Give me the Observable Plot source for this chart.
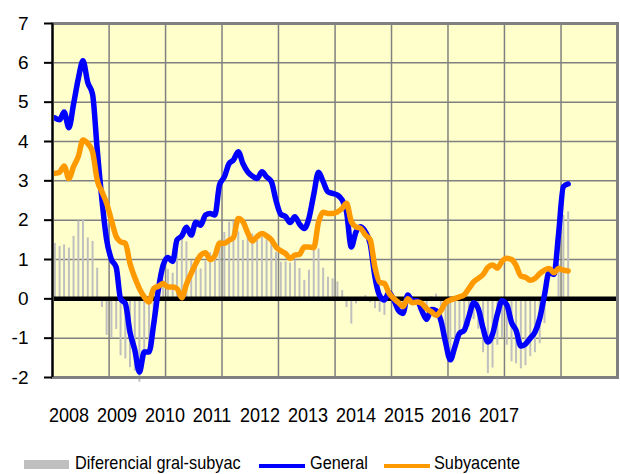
<!DOCTYPE html>
<html>
<head>
<meta charset="utf-8">
<script src="https://cdn.jsdelivr.net/npm/d3@7"></script>
<script src="https://cdn.jsdelivr.net/npm/@observablehq/plot@0.6"></script>
<style>
  html, body { margin: 0; padding: 0; background: #ffffff; }
  #wrap { position: relative; width: 620px; height: 474px; font-family: "Liberation Sans", Arial, sans-serif; color: #000; }
  #chart { position: absolute; left: 0; top: 0; }
  .yr { position: absolute; top: 405px; font-size: 20px; line-height: 20px; white-space: nowrap; transform: translateX(-50%) scaleX(0.9); }
  .lg { position: absolute; top: 453px; font-size: 18.5px; line-height: 20px; white-space: nowrap; transform-origin: 0 50%; transform: scaleX(0.88); }
  .sw { position: absolute; }
</style>
</head>
<body>
<div id="wrap"></div>
<script>
// Monthly series, Jan 2008 .. Feb 2017
const startYear = 2008;
const general = [4.6,4.55,4.75,4.35,4.95,5.6,6.05,5.5,5.2,3.8,2.5,1.5,
  1.0,0.8,0.0,-0.12,-0.85,-1.3,-1.86,-1.35,-1.35,-0.65,0.25,0.85,
  1.05,0.95,1.5,1.6,1.82,1.62,1.95,1.87,2.13,2.17,2.13,2.9,
  3.1,3.44,3.53,3.74,3.44,3.23,3.12,3.06,3.23,3.1,2.98,2.5,
  2.15,2.09,1.94,2.09,1.9,1.79,2.05,2.65,3.22,2.98,2.72,2.68,
  2.64,2.51,2.21,1.32,1.7,1.83,1.7,1.4,0.55,0.08,-0.03,0.16,
  -0.03,-0.3,-0.37,0.1,-0.05,-0.05,-0.3,-0.52,-0.27,-0.3,-0.55,-1.1,
  -1.55,-1.2,-0.88,-0.8,-0.45,-0.1,-0.25,-0.75,-1.1,-0.9,-0.4,-0.05,
  -0.15,-0.6,-0.8,-1.2,-1.15,-1.0,-0.85,-0.5,0.1,0.68,0.62,1.65,
  2.85,2.92];
const subyacente = [3.19,3.22,3.38,3.06,3.36,3.62,4.04,3.95,3.74,3.02,2.72,2.43,
  2.0,1.58,1.45,1.41,0.9,0.54,0.26,0.05,-0.08,0.26,0.32,0.39,
  0.3,0.3,0.26,0.03,0.37,0.65,0.9,1.11,1.17,1.0,1.1,1.41,
  1.41,1.49,1.56,2.04,1.96,1.68,1.47,1.58,1.66,1.6,1.5,1.32,
  1.22,1.15,1.03,1.11,1.13,1.32,1.32,1.3,1.95,2.2,2.17,2.17,
  2.21,2.3,2.43,1.96,1.83,1.79,1.62,1.5,0.8,0.42,0.39,0.14,
  0.01,-0.1,-0.2,0.0,-0.1,-0.08,-0.12,-0.25,-0.33,-0.42,-0.3,-0.1,
  -0.03,0.01,0.05,0.1,0.26,0.43,0.52,0.62,0.8,0.86,0.78,0.95,
  1.03,1.0,0.85,0.58,0.55,0.47,0.52,0.64,0.73,0.77,0.66,0.77,
  0.73,0.71];
const diferencial = [1.41,1.33,1.37,1.29,1.59,1.98,2.01,1.55,1.46,0.78,-0.22,-0.93,
  -1.0,-0.78,-1.45,-1.53,-1.75,-1.84,-2.12,-1.4,-1.27,-0.91,-0.07,0.46,
  0.75,0.65,1.24,1.57,1.45,0.97,1.05,0.76,0.96,1.17,1.03,1.49,
  1.69,1.95,1.97,1.7,1.48,1.55,1.65,1.48,1.57,1.5,1.48,1.18,
  0.93,0.94,0.91,0.98,0.77,0.47,0.73,1.35,1.27,0.78,0.55,0.51,
  0.43,0.21,-0.22,-0.64,-0.13,0.04,0.08,-0.1,-0.25,-0.34,-0.42,0.02,
  -0.04,-0.2,-0.17,0.1,0.05,0.03,-0.18,-0.27,0.06,0.12,-0.25,-1.0,
  -1.52,-1.21,-0.93,-0.9,-0.71,-0.53,-0.77,-1.37,-1.9,-1.76,-1.18,-1.0,
  -1.18,-1.6,-1.65,-1.78,-1.7,-1.47,-1.37,-1.14,-0.63,-0.09,-0.04,0.88,
  2.12,2.21];
const yearLabels = ["2008","2009","2010","2011","2012","2013","2014","2015","2016","2017"];
const yTicks = [-2,-1,0,1,2,3,4,5,6,7];
const legendItems = ["Diferencial gral-subyac", "General", "Subyacente"];

const rows = general.map((g, i) => ({
  date: new Date(Date.UTC(startYear, i, 16)),
  general: g,
  core: subyacente[i],
  diff: diferencial[i]
}));
const xStart = new Date(Date.UTC(2008, 0, 1));
const xEnd = new Date(Date.UTC(2018, 0, 1));
const yearGrid = d3.utcYear.range(new Date(Date.UTC(2009,0,1)), xEnd);

const chart = Plot.plot({
  width: 620,
  height: 385,
  marginLeft: 52,
  marginRight: 3,
  marginTop: 23,
  marginBottom: 8,
  style: { fontFamily: "'Liberation Sans', Arial, sans-serif", fontSize: "19px", color: "black", background: "transparent", overflow: "visible" },
  x: { type: "utc", domain: [xStart, xEnd], axis: null },
  y: { domain: [-2, 7], axis: null },
  marks: [
    Plot.frame({ fill: "#FFFFCC" }),
    Plot.gridX(yearGrid, { stroke: "#808080", strokeOpacity: 1, strokeWidth: 1.5 }),
    Plot.gridY(yTicks.slice(1, -1), { stroke: "#808080", strokeOpacity: 1, strokeWidth: 1.5 }),
    Plot.ruleX(rows, { x: "date", y1: 0, y2: "diff", stroke: "#BFBFBF", strokeWidth: 2 }),
    Plot.ruleY([0], { stroke: "black", strokeWidth: 4.5 }),
    Plot.line(rows, { x: "date", y: "general", stroke: "#0000FF", strokeWidth: 5.5, curve: "monotone-x" }),
    Plot.line(rows, { x: "date", y: "core", stroke: "#FF9900", strokeWidth: 5.5, curve: "monotone-x" }),
    Plot.frame({ stroke: "#808080", strokeWidth: 3 }),
    Plot.ruleX([xStart], { stroke: "black", strokeWidth: 2 }),
    Plot.axisY(yTicks, { tickSize: 8, tickPadding: 16, stroke: "black", strokeWidth: 2, fill: "black", fontSize: 19, tickFormat: d => String(d) })
  ]
});
chart.id = "chart";
const wrap = document.getElementById("wrap");
wrap.appendChild(chart);

// year labels row
yearLabels.forEach((t, k) => {
  const s = document.createElement("div");
  s.className = "yr";
  s.style.left = (69 + 47.8 * k) + "px";
  s.textContent = t;
  wrap.appendChild(s);
});

// legend
const sw1 = document.createElement("div");
sw1.className = "sw";
Object.assign(sw1.style, { left: "24px", top: "460px", width: "45px", height: "9px", background: "#BFBFBF" });
wrap.appendChild(sw1);
const sw2 = document.createElement("div");
sw2.className = "sw";
Object.assign(sw2.style, { left: "259px", top: "464px", width: "46px", height: "3.5px", background: "#0000FF" });
wrap.appendChild(sw2);
const sw3 = document.createElement("div");
sw3.className = "sw";
Object.assign(sw3.style, { left: "384px", top: "464px", width: "46px", height: "3.5px", background: "#FF9900" });
wrap.appendChild(sw3);
[[legendItems[0], 75], [legendItems[1], 310], [legendItems[2], 434]].forEach(([t, x]) => {
  const s = document.createElement("div");
  s.className = "lg";
  s.style.left = x + "px";
  s.textContent = t;
  wrap.appendChild(s);
});
</script>
</body>
</html>
